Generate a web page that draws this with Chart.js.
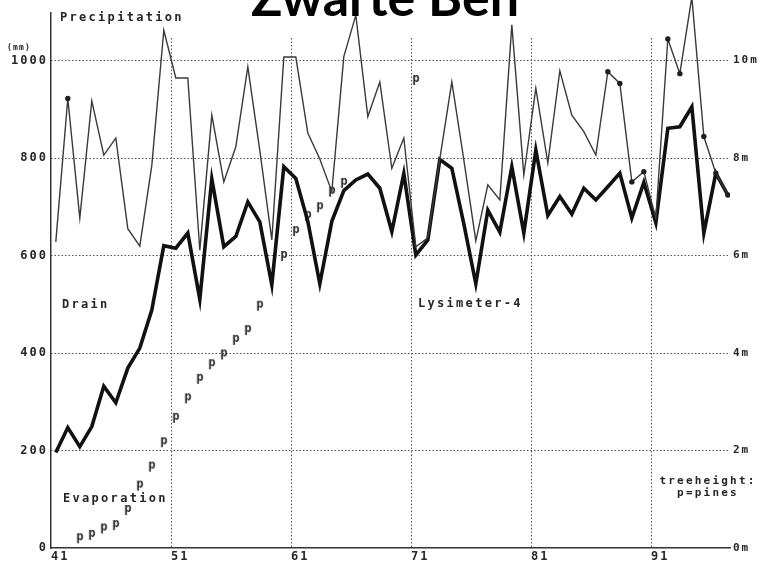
<!DOCTYPE html>
<html>
<head>
<meta charset="utf-8">
<title>Zwarte Ben – Lysimeter-4</title>
<script src="https://cdn.jsdelivr.net/npm/chart.js@4.4.1/dist/chart.umd.min.js"></script>
<style>
  html, body { margin: 0; padding: 0; background: #ffffff; }
  canvas { display: block; }
</style>
</head>
<body>
<canvas id="lysimeter" width="760" height="569"></canvas>
<script>
// Hydrological years 1941–1997
const years = [41, 42, 43, 44, 45, 46, 47, 48, 49, 50,
               51, 52, 53, 54, 55, 56, 57, 58, 59, 60,
               61, 62, 63, 64, 65, 66, 67, 68, 69, 70,
               71, 72, 73, 74, 75, 76, 77, 78, 79, 80,
               81, 82, 83, 84, 85, 86, 87, 88, 89, 90,
               91, 92, 93, 94, 95, 96, 97];

// Yearly precipitation (mm)
const precipitation = [628, 922, 677, 917, 806, 841, 655, 619, 785, 1062,
                       964, 964, 611, 888, 751, 823, 987, 815, 632, 1007,
                       1007, 851, 798, 731, 1008, 1093, 885, 956, 779, 841,
                       618, 636, 798, 956, 796, 630, 745, 714, 1073, 765,
                       943, 790, 979, 888, 854, 806, 977, 953, 751, 772,
                       676, 1044, 973, 1130, 844, 769, 724];

// Yearly drainage from the lysimeter (mm)
const drain = [196, 247, 208, 249, 332, 298, 369, 410, 488, 620,
               615, 646, 510, 757, 618, 639, 710, 669, 540, 782,
               758, 670, 542, 670, 733, 755, 767, 738, 649, 768,
               601, 632, 797, 779, 665, 542, 693, 648, 782, 646,
               816, 682, 721, 685, 738, 714, 741, 769, 677, 750,
               667, 861, 864, 905, 646, 769, 724];

// Precipitation years flagged with a dot
const markedYears = [42, 87, 88, 89, 90, 92, 93, 95, 96, 97];

// Tree height of the pines (m)
const pineYears   = [43, 44, 45, 46, 47, 48, 49, 50, 51, 52, 53, 54,
                     55, 56, 57, 58, 60, 61, 62, 63, 64, 65, 71];
const pineHeights = [0.20, 0.27, 0.40, 0.47, 0.78, 1.28, 1.67, 2.17, 2.67, 3.07, 3.47, 3.77,
                     3.97, 4.27, 4.47, 4.97, 5.99, 6.50, 6.81, 6.99, 7.31, 7.49, 9.60];

// Axis ticks
const yearTicks   = [41, 51, 61, 71, 81, 91];
const mmTicks     = [0, 200, 400, 600, 800, 1000];
const heightTicks = [0, 2, 4, 6, 8, 10];

// ---- drawing set-up ----
const MONO = '"DejaVu Sans Mono", "Liberation Mono", monospace';
const TEXT_SPACING = '2px';
const INK = '#262626';
const YEAR_POS = 0.4;          // each year is plotted a little after its gridline
const MM_MAX = 1097.4;         // top of the plotting area in mm (1 m of tree = 100 mm)
const GRID_TOP_MM = 1046;      // vertical gridlines stop here

const toPoints = (xs, ys) => xs.map((yr, i) => ({ x: yr + YEAR_POS, y: ys[i] }));

// 'p' glyph used as the marker for the pines
const pMarker = document.createElement('canvas');
pMarker.width = 12;
pMarker.height = 16;
(function () {
  const g = pMarker.getContext('2d');
  g.font = 'bold 12px ' + MONO;
  g.fillStyle = INK;
  g.textAlign = 'center';
  g.textBaseline = 'alphabetic';
  g.fillText('p', 6, 10);
})();

// wide, spaced lettering for every text drawn on the chart canvas
const spacingPlugin = {
  id: 'spacing',
  beforeUpdate(chart) { chart.ctx.letterSpacing = TEXT_SPACING; },
  beforeDraw(chart) {
    const { ctx, width, height } = chart;
    ctx.letterSpacing = TEXT_SPACING;
    ctx.save();
    ctx.fillStyle = '#ffffff';
    ctx.fillRect(0, 0, width, height);
    ctx.restore();
  }
};

// dotted gridlines
const gridPlugin = {
  id: 'dottedGrid',
  beforeDatasetsDraw(chart) {
    const { ctx, chartArea: a, scales: { x, y } } = chart;
    ctx.save();
    ctx.strokeStyle = '#505050';
    ctx.lineWidth = 1;
    ctx.setLineDash([1.5, 2]);
    mmTicks.slice(1).forEach(v => {
      const py = Math.round(y.getPixelForValue(v)) + 0.5;
      ctx.beginPath();
      ctx.moveTo(a.left, py);
      ctx.lineTo(a.right, py);
      ctx.stroke();
    });
    const top = y.getPixelForValue(GRID_TOP_MM);
    yearTicks.slice(1).forEach(v => {
      const px = Math.round(x.getPixelForValue(v)) + 0.5;
      ctx.beginPath();
      ctx.moveTo(px, top);
      ctx.lineTo(px, a.bottom);
      ctx.stroke();
    });
    ctx.restore();
  }
};

// series names, units, legend note and title
const notes = [
  { text: 'Precipitation', x: 60,  y: 17.5, size: 12, align: 'left', spacing: '2.3px' },
  { text: '(mm)',          x: 7,   y: 48,   size: 8,  align: 'left', spacing: '1.2px' },
  { text: 'Drain',         x: 62,  y: 305,  size: 12, align: 'left', spacing: '2.3px' },
  { text: 'Evaporation',   x: 63,  y: 499,  size: 12, align: 'left', spacing: '2.3px' },
  { text: 'Lysimeter-4',   x: 418, y: 304,  size: 12, align: 'left', spacing: '2.3px' },
  { text: 'treeheight:',   x: 708, y: 481,  size: 11, align: 'center', spacing: '2.2px' },
  { text: 'p=pines',       x: 708, y: 493,  size: 11, align: 'center', spacing: '2.2px' }
];

const notesPlugin = {
  id: 'notes',
  afterDraw(chart) {
    const { ctx } = chart;
    ctx.save();
    ctx.fillStyle = INK;
    ctx.textBaseline = 'middle';
    notes.forEach(n => {
      ctx.letterSpacing = n.spacing || TEXT_SPACING;
      ctx.font = 'bold ' + n.size + 'px ' + MONO;
      ctx.textAlign = n.align;
      ctx.fillText(n.text, n.x, n.y);
    });
    ctx.letterSpacing = '0px';
    ctx.fillStyle = '#000000';
    ctx.font = 'bold 52px Lato, "Open Sans", sans-serif';
    ctx.textAlign = 'center';
    ctx.textBaseline = 'alphabetic';
    ctx.fillText('Zwarte Ben', 385, 16);
    ctx.restore();
  }
};

const tickFont = { family: MONO, size: 12, weight: 'bold' };

new Chart(document.getElementById('lysimeter'), {
  type: 'line',
  data: {
    datasets: [
      {
        label: 'Precipitation',
        data: toPoints(years, precipitation),
        yAxisID: 'y',
        borderColor: '#3a3a3a',
        borderWidth: 1.4,
        pointRadius: years.map(yr => markedYears.includes(yr) ? 2.7 : 0),
        pointBackgroundColor: '#1e1e1e',
        pointBorderWidth: 0,
        tension: 0,
        clip: { left: 0, top: 20, right: 0, bottom: 0 }
      },
      {
        label: 'Drain',
        data: toPoints(years, drain),
        yAxisID: 'y',
        borderColor: '#111111',
        borderWidth: 3.6,
        pointRadius: 0,
        tension: 0
      },
      {
        label: 'treeheight: p=pines',
        data: toPoints(pineYears, pineHeights),
        yAxisID: 'y2',
        showLine: false,
        pointStyle: pMarker,
        pointRadius: 5
      }
    ]
  },
  options: {
    responsive: false,
    animation: false,
    events: [],
    layout: { padding: { top: 13 } },
    plugins: {
      legend: { display: false },
      tooltip: { enabled: false },
      title: { display: false }
    },
    scales: {
      x: {
        type: 'linear',
        position: 'bottom',
        min: 41,
        max: 97.58,
        afterBuildTicks: s => { s.ticks = yearTicks.map(v => ({ value: v })); },
        afterFit: s => { s.height = 21; },
        grid: { display: false, drawTicks: false },
        border: { display: true, color: '#333333', width: 1.5 },
        ticks: {
          align: 'start', padding: 2, maxRotation: 0, autoSkip: false,
          font: tickFont, color: INK,
          callback: v => String(v)
        }
      },
      y: {
        position: 'left',
        min: 0,
        max: MM_MAX,
        afterBuildTicks: s => { s.ticks = mmTicks.map(v => ({ value: v })); },
        afterFit: s => { s.width = 51; },
        grid: { display: false, drawTicks: false },
        border: { display: true, color: '#333333', width: 1.5 },
        ticks: { padding: 3, font: tickFont, color: INK, callback: v => String(v) }
      },
      y2: {
        position: 'right',
        min: 0,
        max: MM_MAX / 100,
        afterBuildTicks: s => { s.ticks = heightTicks.map(v => ({ value: v })); },
        afterFit: s => { s.width = 30; },
        grid: { display: false, drawTicks: false },
        border: { display: false },
        ticks: {
          padding: 3,
          font: { family: MONO, size: 11, weight: 'bold' },
          color: INK,
          callback: v => v + 'm'
        }
      }
    }
  },
  plugins: [spacingPlugin, gridPlugin, notesPlugin]
});
</script>
</body>
</html>
